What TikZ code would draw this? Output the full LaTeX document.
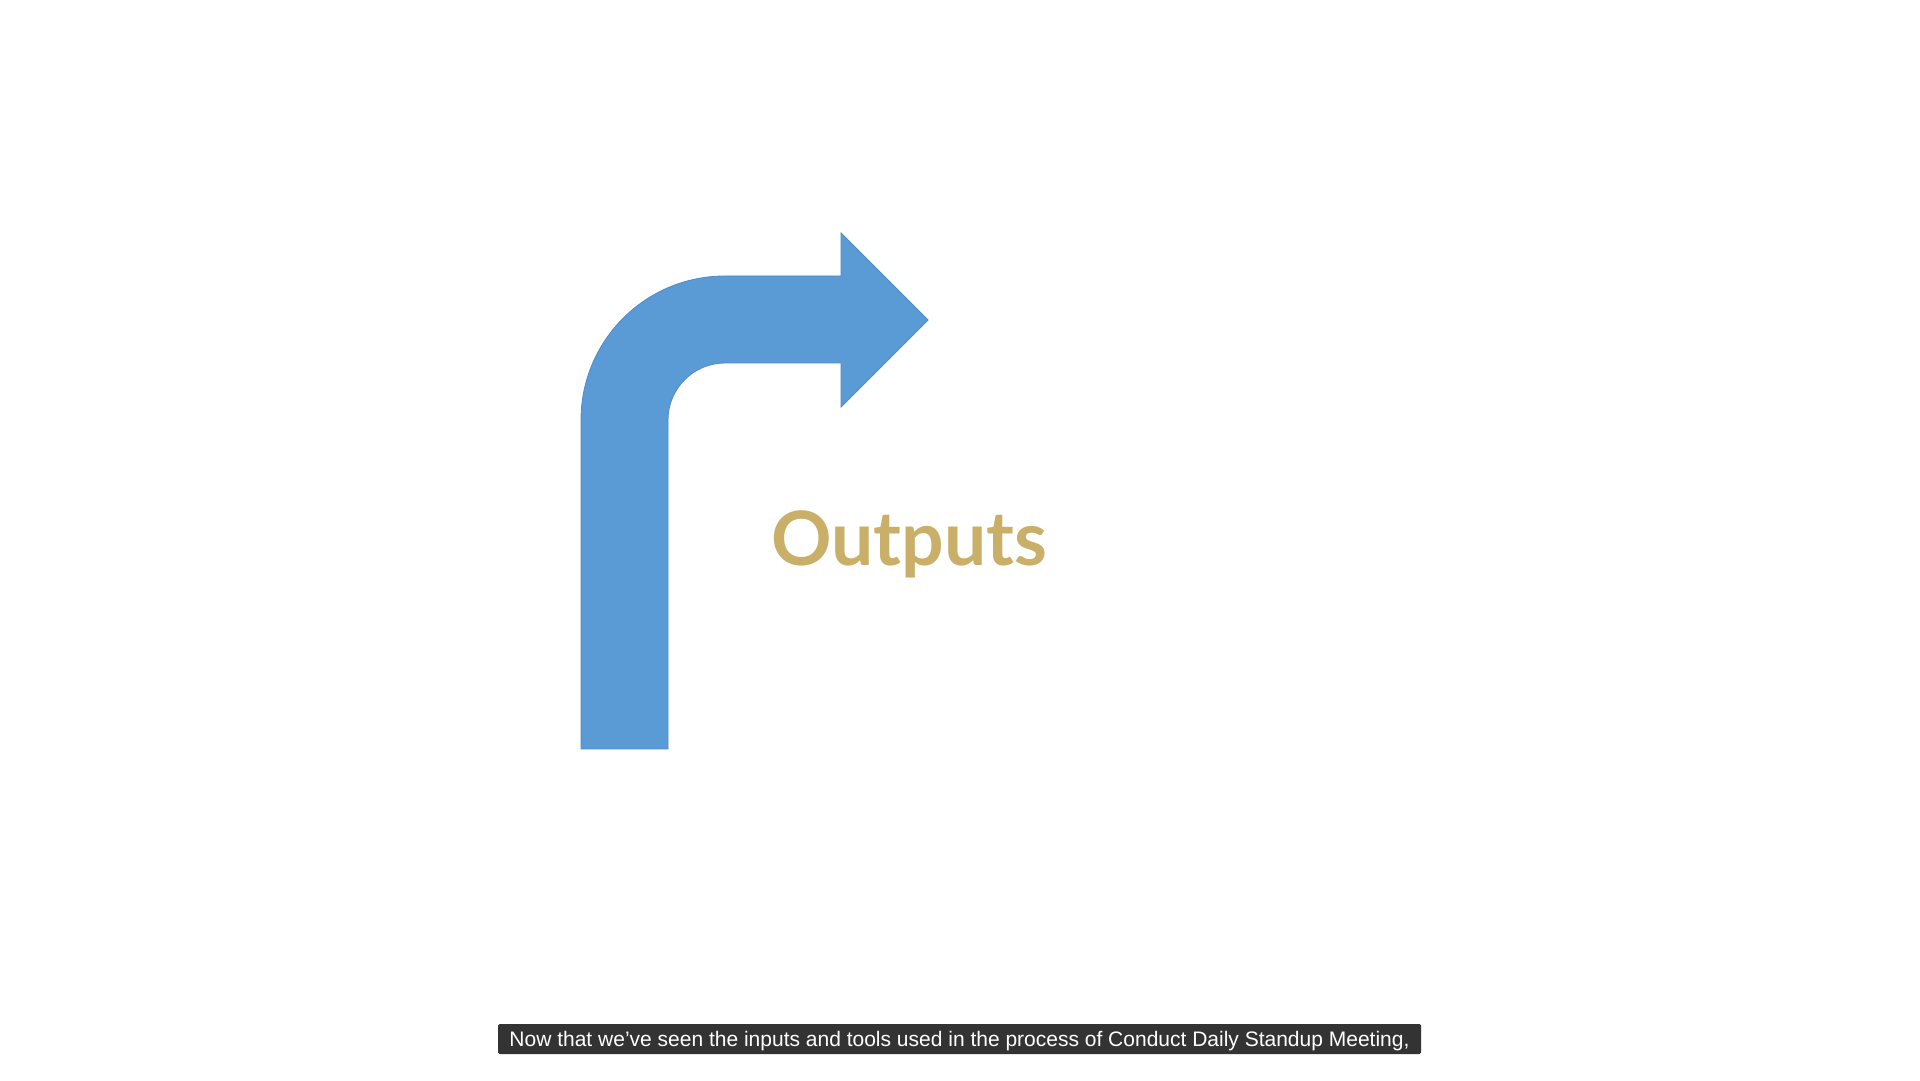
\documentclass[tikz,border=0pt]{standalone}
\usepackage{fontspec}
\setmainfont{Liberation Sans}
\newfontfamily\headfont{Lato}[UprightFont=* Bold]
\definecolor{arrowblue}{HTML}{5B9BD5}
\definecolor{arrowedge}{HTML}{4E8AC6}
\definecolor{gold}{HTML}{C9AF68}
\definecolor{captionbg}{HTML}{333333}
\begin{document}
\begin{tikzpicture}[x=1pt,y=1pt,
  bentarrow/.style={fill=arrowblue,draw=arrowedge,line width=0.8pt,line join=miter},
  headline/.style={text=gold,font=\headfont\fontsize{75}{80}\selectfont,inner sep=0pt},
  captionbox/.style={fill=captionbg,minimum width=923pt,minimum height=30pt,
    inner sep=0pt,rounded corners=1.5pt},
  captiontext/.style={text=white,font=\fontsize{21}{24}\selectfont,inner sep=0pt}]
\useasboundingbox[fill=white] (0,0) rectangle (1920,1080);

% bent-up arrow turning right
\draw[bentarrow] (581,331) -- (581,660)
  arc[start angle=180,end angle=90,radius=144] -- (841,804) -- (841,847)
  -- (928,760) -- (841,673) -- (841,717) -- (725,717)
  arc[start angle=90,end angle=180,radius=57] -- (668,331) -- cycle;

\node[headline,anchor=base west] (outputs) at (771,514) {Outputs};

% subtitle bar
\node[captionbox] (caption) at (959.5,41) {};
\node[captiontext,anchor=base] (captionline) at (959.5,33.5)
  {Now that we’ve seen the inputs and tools used in the process of Conduct Daily Standup Meeting,};
\end{tikzpicture}
\end{document}
